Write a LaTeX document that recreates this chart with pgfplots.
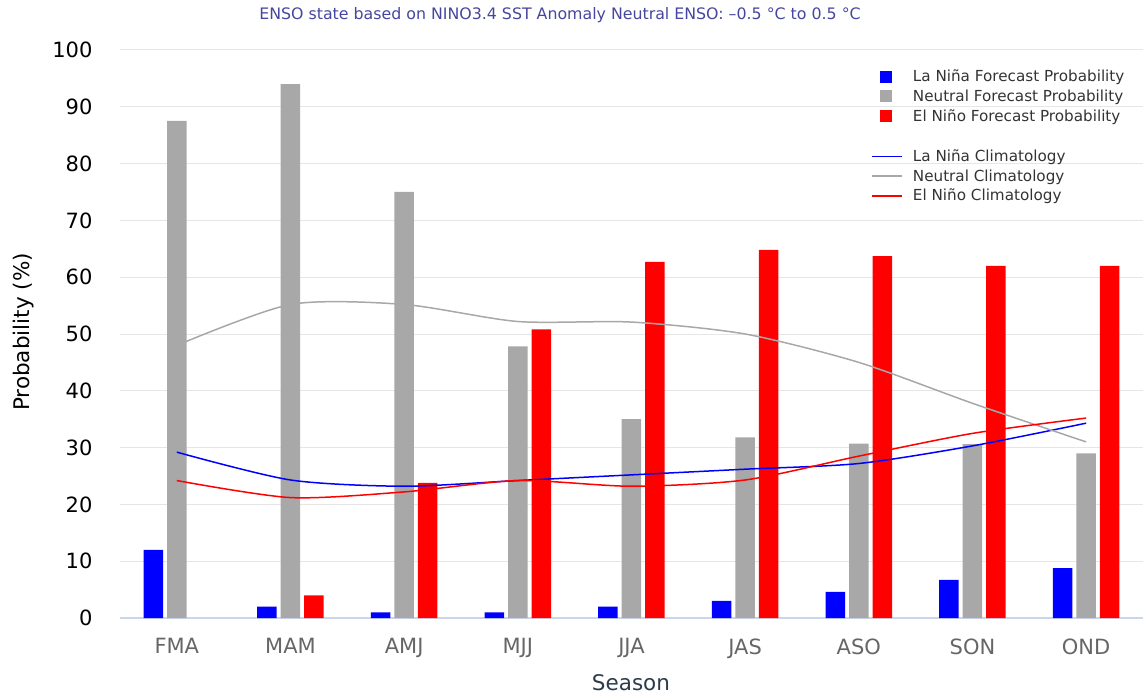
\documentclass[border=0pt]{standalone}
\usepackage{pgfplots}
\pgfplotsset{compat=1.18}
\usepackage{fontspec}
\setmainfont{DejaVu Sans}
\definecolor{lnblue}{RGB}{0,0,255}
\definecolor{ngray}{RGB}{168,168,168}
\definecolor{enred}{RGB}{255,0,0}
\definecolor{gridc}{RGB}{230,230,230}
\definecolor{axisc}{RGB}{204,214,235}
\definecolor{titlec}{RGB}{70,70,160}
\definecolor{txt}{RGB}{51,51,51}
\definecolor{lbl}{RGB}{45,60,75}
\definecolor{xtxt}{RGB}{102,102,102}
\begin{document}
\begin{tikzpicture}[x=1pt,y=1pt]
\path[use as bounding box] (-120,-79) rectangle (1023,618);
\begin{axis}[
  at={(0,0)}, anchor=south west,
  scale only axis, width=1023pt, height=568pt,
  xmin=-0.5, xmax=8.5, ymin=0, ymax=100,
  xtick={0,...,8},
  xticklabels={FMA,MAM,AMJ,MJJ,JJA,JAS,ASO,SON,OND},
  ytick={0,10,...,100},
  yticklabels={0,10,20,30,40,50,60,70,80,90,100},
  major tick length=0pt,
  axis line style={draw=none},
  ymajorgrids, grid style={gridc, line width=1pt},
  extra y ticks={0}, extra y tick labels={},
  extra y tick style={grid style={axisc, line width=1.5pt}},
  xticklabel style={font=\fontsize{21}{23}\selectfont, text=xtxt, yshift=-17pt},
  yticklabel style={font=\fontsize{21}{23}\selectfont, text=black, xshift=-24pt},
  ybar=4pt, bar width=19.5pt,
  legend cell align=left,
  legend style={draw=none, fill=none, at={(axis description cs:0.731,0.972)}, anchor=north west,
    font=\fontsize{15.2}{17}\selectfont, text=txt, row sep=2.4pt},
  clip=false,
]
\addplot[fill=lnblue, draw=none, area legend,
  legend image code/.code={\path[draw=none,fill=none] (-6pt,0) -- (33pt,0); \fill[lnblue] (2pt,-6pt) rectangle (14pt,6pt);}]
  coordinates {(0,12) (1,2) (2,1) (3,1) (4,2) (5,3) (6,4.6) (7,6.7) (8,8.8)};
\addlegendentry{La Niña Forecast Probability}
\addplot[fill=ngray, draw=none,
  legend image code/.code={\path[draw=none,fill=none] (-6pt,0) -- (33pt,0); \fill[ngray] (2pt,-6pt) rectangle (14pt,6pt);}]
  coordinates {(0,87.5) (1,94) (2,75) (3,47.8) (4,35) (5,31.8) (6,30.7) (7,30.6) (8,29)};
\addlegendentry{Neutral Forecast Probability}
\addplot[fill=enred, draw=none,
  legend image code/.code={\path[draw=none,fill=none] (-6pt,0) -- (33pt,0); \fill[enred] (2pt,-6pt) rectangle (14pt,6pt);}]
  coordinates {(1,4) (2,23.8) (3,50.8) (4,62.7) (5,64.8) (6,63.7) (7,62) (8,62)};
\addlegendentry{El Niño Forecast Probability}
\addlegendimage{empty legend}
\addlegendentry{\rule{0pt}{13pt}}
\addplot[sharp plot, smooth, tension=0.45, draw=lnblue, line width=1.5pt,
  legend image code/.code={\path[draw=none,fill=none] (-6pt,0) -- (33pt,0); \draw[draw=lnblue,line width=1.8pt] (-6pt,0) -- (24pt,0);}]
  coordinates {(0,29.2) (1,24.3) (2,23.2) (3,24.2) (4,25.2) (5,26.2) (6,27.2) (7,30.3) (8,34.3)};
\addlegendentry{La Niña Climatology}
\addplot[sharp plot, smooth, tension=0.45, draw=ngray, line width=1.5pt,
  legend image code/.code={\path[draw=none,fill=none] (-6pt,0) -- (33pt,0); \draw[draw=ngray,line width=1.8pt] (-6pt,0) -- (24pt,0);}]
  coordinates {(0,48) (1,55.2) (2,55.2) (3,52.2) (4,52.1) (5,50) (6,45) (7,37.8) (8,31)};
\addlegendentry{Neutral Climatology}
\addplot[sharp plot, smooth, tension=0.45, draw=enred, line width=1.5pt,
  legend image code/.code={\path[draw=none,fill=none] (-6pt,0) -- (33pt,0); \draw[draw=enred,line width=1.8pt] (-6pt,0) -- (24pt,0);}]
  coordinates {(0,24.2) (1,21.2) (2,22.2) (3,24.2) (4,23.2) (5,24.3) (6,28.5) (7,32.5) (8,35.2)};
\addlegendentry{El Niño Climatology}
\end{axis}
\node[text=titlec, font=\fontsize{15.8}{18}\selectfont] at (440,603) {ENSO state based on NINO3.4 SST Anomaly Neutral ENSO: –0.5 °C to 0.5 °C};
\node[text=lbl, font=\fontsize{21.5}{24}\selectfont] at (511,-65) {Season};
\node[text=black, font=\fontsize{21.5}{24}\selectfont, rotate=90] at (-96,286) {Probability (\%)};
\end{tikzpicture}
\end{document}
